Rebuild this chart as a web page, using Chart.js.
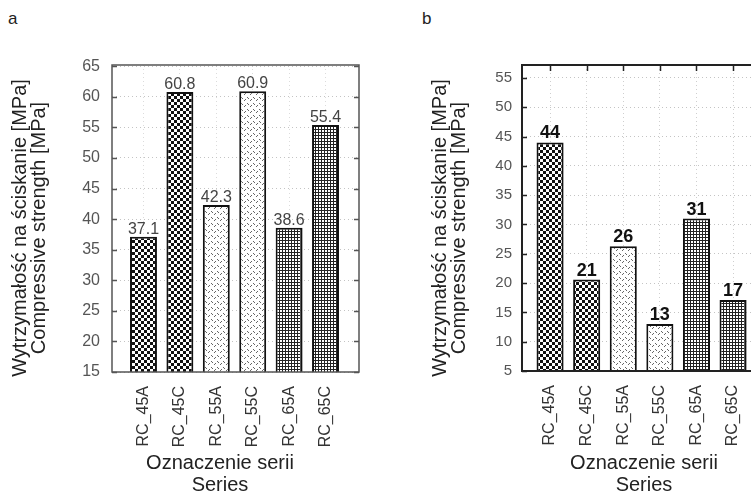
<!DOCTYPE html>
<html>
<head>
<meta charset="utf-8">
<script src="https://cdn.jsdelivr.net/npm/chart.js@4.4.1/dist/chart.umd.min.js"></script>
<style>
  html, body { margin: 0; padding: 0; background: #fff; overflow: hidden; }
  body { width: 751px; height: 497px; position: relative; font-family: "Liberation Sans", Arial, sans-serif; }
  .panel { position: absolute; top: 0; width: 400px; height: 497px; }
  #pa { left: 0; }
  #pb { left: 420px; }
  .tag { position: absolute; top: 9px; font-size: 17px; color: #222; }
</style>
</head>
<body>
<div class="tag" style="left:8px">a</div>
<div class="tag" style="left:422px">b</div>
<div class="panel" id="pa"><canvas id="ca"></canvas></div>
<div class="panel" id="pb"><canvas id="cb"></canvas></div>
<script>
// Data
const series    = ['RC_45A', 'RC_45C', 'RC_55A', 'RC_55C', 'RC_65A', 'RC_65C'];
const strengthA = [37.1, 60.8, 42.3, 60.9, 38.6, 55.4];
const strengthB = [44.0, 20.6, 26.3, 13.0, 31.0, 17.1];
const yTicksA   = [15, 20, 25, 30, 35, 40, 45, 50, 55, 60, 65];
const yTicksB   = [5, 10, 15, 20, 25, 30, 35, 40, 45, 50, 55];
const yTitle    = ['Wytrzymałość na ściskanie [MPa]', 'Compressive strength [MPa]'];
const xTitle    = ['Oznaczenie serii', 'Series'];

const FONT = '"Liberation Sans", Arial, sans-serif';
Chart.defaults.font.family = FONT;

/**
 * Small repeating tile used as a hatch fill for the bars.
 */
function makeTile(size, paint) {
    const c = document.createElement('canvas');
    c.width = c.height = size;
    const g = c.getContext('2d');
    g.fillStyle = '#fff';
    g.fillRect(0, 0, size, size);
    paint(g);
    return g.createPattern(c, 'repeat');
}

const checker = makeTile(6, g => {
    g.fillStyle = '#111';
    g.fillRect(0, 0, 3, 3);
    g.fillRect(3, 3, 3, 3);
});
const dots = makeTile(6, g => {
    g.fillStyle = '#666';
    g.fillRect(1, 1, 1, 1);
    g.fillRect(2, 2, 1, 1);
    g.fillRect(4, 4, 1, 1);
    g.fillRect(5, 3, 1, 1);
});
const grid = makeTile(3, g => {
    g.fillStyle = '#222';
    g.fillRect(0, 0, 3, 1);
    g.fillRect(0, 0, 1, 3);
});
const fills = [checker, checker, dots, dots, grid, grid];

// Frame, inward ticks, bar value labels and the two-line axis titles
const framePlugin = {
    id: 'frame',
    afterDraw(chart, args, o) {
        const { ctx, chartArea: a, scales } = chart;
        ctx.save();
        ctx.strokeStyle = o.frameColor;
        ctx.lineWidth = o.frameWidth;
        ctx.strokeRect(a.left, a.top, a.right - a.left, a.bottom - a.top);

        ctx.lineWidth = 1.5;
        scales.y.ticks.forEach(t => {
            const y = Math.round(scales.y.getPixelForValue(t.value)) + 0.5;
            ctx.beginPath();
            ctx.moveTo(a.left, y); ctx.lineTo(a.left + 5, y);
            if (o.rightTicks) { ctx.moveTo(a.right, y); ctx.lineTo(a.right - 5, y); }
            ctx.stroke();
        });
        if (o.topTicks) {
            scales.x.ticks.forEach(t => {
                const x = Math.round(scales.x.getPixelForValue(t.value)) + 0.5;
                ctx.beginPath();
                ctx.moveTo(x, a.top); ctx.lineTo(x, a.top + 6);
                ctx.stroke();
            });
        }

        // value labels above the bars
        const values = chart.data.datasets[0].data;
        ctx.font = o.valueFont;
        ctx.fillStyle = o.valueColor;
        ctx.textAlign = 'center';
        ctx.textBaseline = 'alphabetic';
        chart.getDatasetMeta(0).data.forEach((bar, i) => {
            ctx.fillText(o.fmt(values[i].y), bar.x, bar.y - o.valueGap);
        });

        // axis titles
        ctx.fillStyle = '#222';
        ctx.font = '20px ' + FONT;
        ctx.textBaseline = 'middle';
        yTitle.forEach((line, i) => {
            ctx.save();
            ctx.translate(o.yTitleX[i], o.yTitleY);
            ctx.rotate(-Math.PI / 2);
            ctx.fillText(line, 0, 0);
            ctx.restore();
        });
        xTitle.forEach((line, i) => {
            ctx.fillText(line, o.xTitleX, o.xTitleY[i]);
        });
        ctx.restore();
    }
};

function buildChart(id, values, yTicks, cfg) {
    return new Chart(document.getElementById(id), {
        type: 'bar',
        data: {
            datasets: [{
                data: values.map((v, i) => ({ x: i, y: v })),
                backgroundColor: fills,
                borderColor: '#111',
                borderWidth: cfg.barBorder,
                categoryPercentage: 1,
                barPercentage: 0.74
            }]
        },
        options: {
            responsive: true,
            maintainAspectRatio: false,
            animation: false,
            layout: { padding: { top: 65, right: cfg.padRight, left: 0, bottom: 0 } },
            plugins: {
                legend: { display: false },
                tooltip: { enabled: false },
                frame: cfg.frame
            },
            scales: {
                x: {
                    type: 'linear',
                    offset: false,
                    min: cfg.xMin,
                    max: cfg.xMax,
                    afterBuildTicks: s => { s.ticks = series.map((_, i) => ({ value: i })); },
                    afterFit: s => { s.height = cfg.xHeight; },
                    ticks: {
                        callback: v => series[v],
                        autoSkip: false,
                        minRotation: 90,
                        maxRotation: 90,
                        padding: 14,
                        color: '#333',
                        font: { size: 16 }
                    },
                    grid: { color: cfg.vGrid, drawTicks: false, offset: false },
                    border: { display: false, dash: [1, 3] }
                },
                y: {
                    min: yTicks[0],
                    max: cfg.yMax,
                    afterBuildTicks: s => { s.ticks = yTicks.map(v => ({ value: v })); },
                    afterFit: s => { s.width = cfg.yWidth; },
                    ticks: {
                        padding: cfg.yPad,
                        color: '#555',
                        font: { size: cfg.yFont }
                    },
                    grid: { color: '#c4c4c4', drawTicks: false },
                    border: { display: false, dash: [1, 3] }
                }
            }
        },
        plugins: [framePlugin]
    });
}

buildChart('ca', strengthA, yTicksA, {
    xMin: -0.865, xMax: 5.92, yMax: 65.2,
    yWidth: 112, yPad: 12, yFont: 16, padRight: 41, xHeight: 125,
    barBorder: 2, vGrid: '#dcdcdc',
    frame: {
        frameColor: '#555', frameWidth: 1.5, rightTicks: true, topTicks: false,
        valueFont: '16px ' + FONT, valueColor: '#444', valueGap: 3,
        fmt: v => v.toFixed(1),
        yTitleX: [20, 39], yTitleY: 228, xTitleX: 220, xTitleY: [463, 485]
    }
});

buildChart('cb', strengthB, yTicksB, {
    xMin: -0.767, xMax: 5.9, yMax: 57.2,
    yWidth: 102, yPad: 10, yFont: 15, padRight: 54, xHeight: 126,
    barBorder: 2, vGrid: '#cfcfcf',
    frame: {
        frameColor: '#222', frameWidth: 2, rightTicks: true, topTicks: true,
        valueFont: 'bold 18px ' + FONT, valueColor: '#111', valueGap: 4,
        fmt: v => Math.round(v).toString(),
        yTitleX: [20, 39], yTitleY: 228, xTitleX: 224, xTitleY: [463, 485]
    }
});
</script>
</body>
</html>
